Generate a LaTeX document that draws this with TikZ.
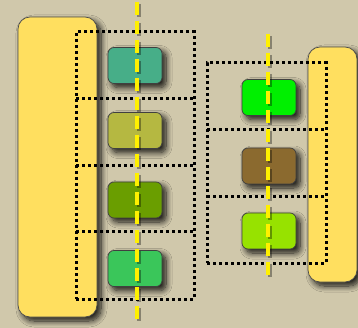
\documentclass[tikz,border=0pt]{standalone}
\usetikzlibrary{shadows.blur}
\definecolor{bg}{HTML}{D0C8AB}
\definecolor{yblk}{HTML}{FFDF5F}
\definecolor{dashy}{HTML}{FFF000}
\definecolor{cA}{HTML}{47AE88}
\definecolor{cB}{HTML}{B5B841}
\definecolor{cC}{HTML}{6A9E00}
\definecolor{cD}{HTML}{3AC65A}
\definecolor{cE}{HTML}{00F000}
\definecolor{cF}{HTML}{8B6A2F}
\definecolor{cG}{HTML}{97E200}
\begin{document}
\begin{tikzpicture}[x=1pt,y=-1pt,
  shad/.style={blur shadow={shadow xshift=4pt,shadow yshift=-4pt,shadow blur radius=6pt,shadow blur steps=10,shadow opacity=90}},
  yblock/.style={shad,fill=yblk,draw=black!70,line width=0.7pt,rounded corners=12pt,inner sep=0pt,outer sep=0pt},
  dots/.style={draw=black,line width=3pt,dash pattern=on 3pt off 3pt},
  grid/.style={dots,inner sep=0pt,outer sep=0pt},
  tile/.style={shad,fill=#1,draw=black!75,line width=0.7pt,rounded corners=6pt,inner sep=0pt,outer sep=0pt,minimum width=54pt,minimum height=36pt},
  axis/.style={draw=dashy,line width=4pt,dash pattern=on 13pt off 6pt},
  axisshadow/.style={draw=black,opacity=0.35,line width=4pt,dash pattern=on 13pt off 6pt}
]
\useasboundingbox[fill=bg] (0,0) rectangle (358,328);
% yellow blocks
\node[yblock,minimum width=79pt,minimum height=300pt] (L) at (57.5,167) {};
\node[yblock,minimum width=49pt,minimum height=235pt] (R) at (332.5,164.5) {};
% left dotted grid
\node[grid,minimum width=118pt,minimum height=267pt] (LG) at (135,165.5) {};
\coordinate (ls1) at (76,99);
\coordinate (ls2) at (76,166);
\coordinate (ls3) at (76,232);
\draw[dots] (ls1) -- (ls1 -| LG.east);
\draw[dots] (ls2) -- (ls2 -| LG.east);
\draw[dots] (ls3) -- (ls3 -| LG.east);
% right dotted grid
\node[grid,minimum width=119pt,minimum height=200pt] (RG) at (266.5,163) {};
\coordinate (rs1) at (207,130);
\coordinate (rs2) at (207,197);
\draw[dots] (rs1) -- (rs1 -| RG.east);
\draw[dots] (rs2) -- (rs2 -| RG.east);
% tiles
\node[tile=cA] (a) at (135,65.5) {};
\node[tile=cB] (b) at (135,130.5) {};
\node[tile=cC] (c) at (135,200) {};
\node[tile=cD] (d) at (135,268.5) {};
\node[tile=cE] (e) at (269,97.5) {};
\node[tile=cF] (f) at (269,166) {};
\node[tile=cG] (g) at (269,231) {};
% axes
\coordinate (lt) at (137,2);
\coordinate (lb) at (137,323);
\coordinate (rt) at (268,34);
\coordinate (rb) at (268,277);
\draw[axisshadow,transform canvas={xshift=2pt,yshift=-2pt}] (lt) -- (lb);
\draw[axisshadow,transform canvas={xshift=2pt,yshift=-2pt}] (rt) -- (rb);
\draw[axis] (lt) -- (lb);
\draw[axis] (rt) -- (rb);
\end{tikzpicture}
\end{document}
